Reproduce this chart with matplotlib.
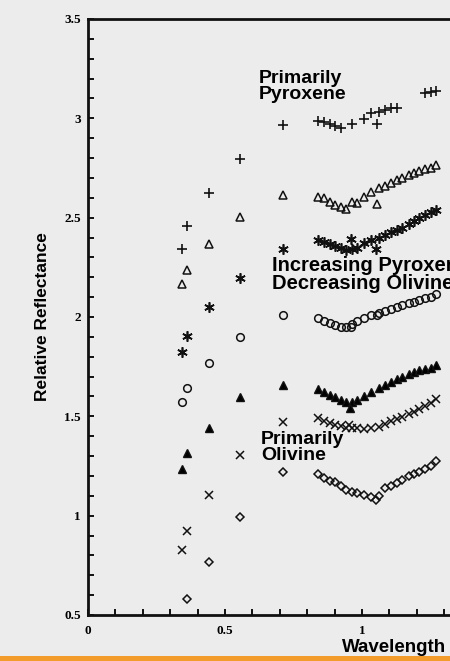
import matplotlib
matplotlib.use("Agg")
import matplotlib.pyplot as plt
import numpy as np
from matplotlib.patches import Rectangle
from matplotlib.ticker import MultipleLocator, FuncFormatter

plt.rcParams["font.family"] = "Liberation Serif"
plt.rcParams["font.weight"] = "bold"

nan = np.nan

# wavelength samples (first five are sparse, the rest is the dense run)
wavelength = [0.343, 0.361, 0.442, 0.555, 0.712,
              0.839, 0.861, 0.883, 0.901, 0.923, 0.942, 0.964, 0.982, 1.007,
              1.033, 1.062, 1.084, 1.106, 1.128, 1.146, 1.172, 1.190, 1.208,
              1.230, 1.252, 1.270]

plus_y = [2.342, 2.458, 2.624, 2.795, 2.967,
          2.987, 2.982, 2.972, 2.962, 2.951, nan, 2.972, nan, 2.997,
          3.027, 3.032, 3.042, 3.052, 3.052, nan, nan, nan, nan,
          3.128, 3.133, 3.138]
tri_open_y = [2.166, 2.237, 2.368, 2.504, 2.614,
              2.604, 2.599, 2.579, 2.564, 2.554, 2.544, 2.579, 2.574, 2.604,
              2.629, 2.649, 2.660, 2.675, 2.690, 2.700, 2.715, 2.725, 2.735,
              2.745, 2.750, 2.765]
star_y = [1.824, 1.905, 2.051, 2.197, 2.342,
          2.388, 2.378, 2.368, 2.358, 2.348, 2.337, 2.342, 2.348, 2.373,
          2.388, 2.398, 2.413, 2.428, 2.438, 2.448, 2.468, 2.483, 2.498,
          2.514, 2.529, 2.539]
circle_y = [1.572, 1.643, 1.769, 1.900, 2.010,
            1.995, 1.980, 1.970, 1.960, 1.950, 1.950, 1.965, 1.980, 1.995,
            2.010, 2.020, 2.030, 2.041, 2.051, 2.061, 2.071, 2.076, 2.086,
            2.096, 2.101, 2.116]
tri_fill_y = [1.235, 1.316, 1.442, 1.598, 1.658,
              1.638, 1.623, 1.608, 1.598, 1.583, 1.572, 1.572, 1.583, 1.603,
              1.623, 1.643, 1.658, 1.673, 1.688, 1.698, 1.713, 1.723, 1.734,
              1.739, 1.744, 1.759]
cross_y = [0.828, 0.923, 1.104, 1.306, 1.472,
           1.492, 1.477, 1.467, 1.457, 1.452, 1.442, 1.442, 1.442, 1.437,
           1.442, 1.447, 1.462, 1.477, 1.487, 1.497, 1.512, 1.522, 1.537,
           1.552, 1.568, 1.588]
diamond_y = [nan, 0.581, 0.767, 0.994, 1.220,
             1.210, 1.190, 1.175, 1.170, 1.150, 1.130, 1.120, 1.115, 1.104,
             1.094, 1.099, 1.140, 1.150, 1.165, 1.180, 1.200, 1.210, 1.220,
             1.235, 1.250, 1.276]

# stray points from the overlap of the two spectrometer segments
plus_extra_x, plus_extra_y = [1.055], [2.972]
tri_open_extra_x, tri_open_extra_y = [1.055], [2.569]
star_extra_x, star_extra_y = [0.960, 1.051], [2.393, 2.342]
circle_extra_x, circle_extra_y = [0.960, 1.055], [1.950, 2.010]
tri_fill_extra_x, tri_fill_extra_y = [0.957], [1.542]
cross_extra_x, cross_extra_y = [0.953], [1.457]
diamond_extra_x, diamond_extra_y = [1.051], [1.079]

series = [
    (plus_y, plus_extra_x, plus_extra_y, dict(marker="+", ms=7.5, mew=1.2)),
    (tri_open_y, tri_open_extra_x, tri_open_extra_y, dict(marker="^", ms=6, mfc="none", mew=1.1)),
    (star_y, star_extra_x, star_extra_y, dict(marker=(6, 2, 0), ms=7.5, mew=1.2)),
    (circle_y, circle_extra_x, circle_extra_y, dict(marker="o", ms=5.5, mfc="none", mew=1.1)),
    (tri_fill_y, tri_fill_extra_x, tri_fill_extra_y, dict(marker="^", ms=6, mfc="black", mew=1.0)),
    (cross_y, cross_extra_x, cross_extra_y, dict(marker="x", ms=6, mew=1.1)),
    (diamond_y, diamond_extra_x, diamond_extra_y, dict(marker="D", ms=3.8, mfc="none", mew=1.1)),
]

fig = plt.figure(figsize=(4.5, 6.61), dpi=100, facecolor="#ececec")
ax = fig.add_axes([0.1956, 0.0696, 0.8044, 0.9017])
ax.set_facecolor("none")

for y, ex, ey, style in series:
    ax.plot(wavelength, y, linestyle="none", color="#111111", mec="#111111", **style)
    ax.plot(ex, ey, linestyle="none", color="#111111", mec="#111111", **style)

ax.set_xlim(0, 1.321)
ax.set_ylim(0.5, 3.5)
ax.xaxis.set_major_locator(MultipleLocator(0.5))
ax.xaxis.set_minor_locator(MultipleLocator(0.1))
ax.yaxis.set_major_locator(MultipleLocator(0.5))
ax.yaxis.set_minor_locator(MultipleLocator(0.1))
fmt = FuncFormatter(lambda v, _: f"{v:g}")
ax.xaxis.set_major_formatter(fmt)
ax.yaxis.set_major_formatter(fmt)
ax.tick_params(which="both", direction="in", length=4, width=1.4, color="#111111")
ax.tick_params(axis="y", which="major", labelsize=9.5, pad=5)
ax.tick_params(axis="x", which="major", labelsize=9.5, pad=7)

ax.spines["right"].set_visible(False)
for s in ["top", "left", "bottom"]:
    ax.spines[s].set_linewidth(2.0)
    ax.spines[s].set_color("#111111")

sans = "Liberation Sans"
ax.set_ylabel("Relative Reflectance", family=sans, weight="bold", size=12.5)
ax.yaxis.set_label_coords(-0.105, 0.5)
ax.set_xlabel("Wavelength", family=sans, weight="bold", size=13.5)
ax.xaxis.set_label_coords(0.845, -0.040)

ax.text(0.624, 3.158, "Primarily\nPyroxene", family=sans, weight="bold", size=14,
        va="center", ha="left", linespacing=0.92)
ax.text(0.672, 2.214, "Increasing Pyroxene\nDecreasing Olivine", family=sans, weight="bold",
        size=14.5, va="center", ha="left", linespacing=0.9)
ax.text(0.631, 1.344, "Primarily\nOlivine", family=sans, weight="bold", size=14,
        va="center", ha="left", linespacing=0.92)

fig.add_artist(Rectangle((0, 0), 1, 5 / 661, transform=fig.transFigure,
                         color="#f39c2c", lw=0))

fig.savefig("out.png", dpi=100, facecolor=fig.get_facecolor())
